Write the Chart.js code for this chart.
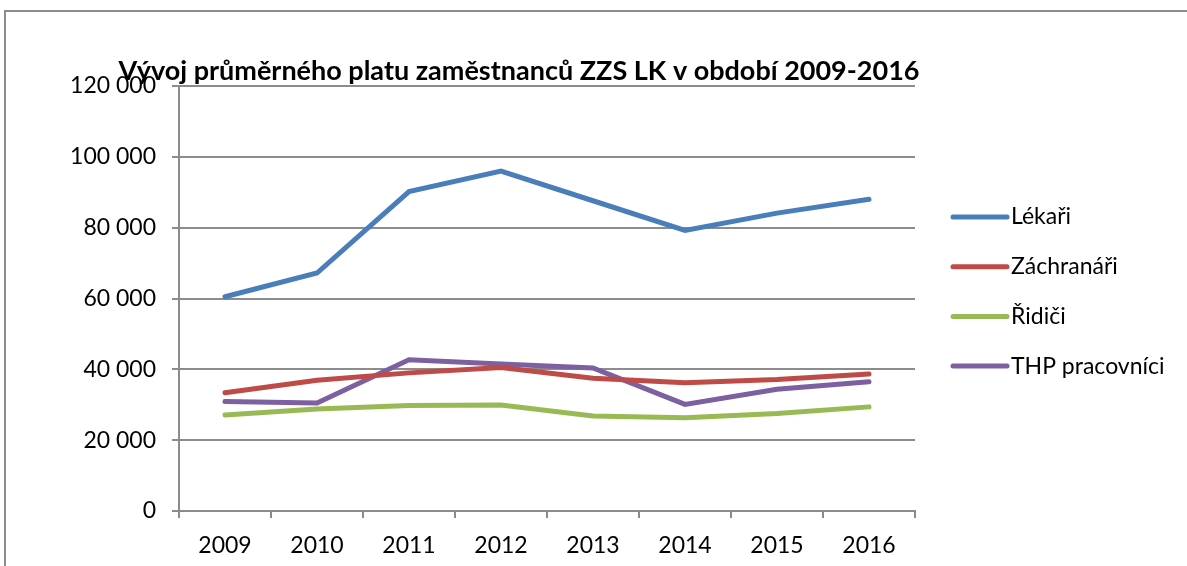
<!DOCTYPE html>
<html>
<head>
<meta charset="utf-8">
<script src="https://cdn.jsdelivr.net/npm/chart.js@4.4.0/dist/chart.umd.min.js"></script>
<style>
  html, body { margin: 0; padding: 0; background: #fff; overflow: hidden; }
  canvas { display: block; }
</style>
</head>
<body>
<canvas id="c" width="1187" height="566"></canvas>
<script>
const chartTitle = "Vývoj průměrného platu zaměstnanců ZZS LK v období 2009-2016";
const years = ["2009", "2010", "2011", "2012", "2013", "2014", "2015", "2016"];
const lekari = [60500, 67200, 90200, 96000, 87600, 79200, 84100, 88000];
const zachranari = [33400, 36900, 39000, 40500, 37500, 36200, 37100, 38700];
const ridici = [27100, 28800, 29800, 29900, 26800, 26300, 27500, 29400];
const thp = [30900, 30500, 42700, 41500, 40400, 30100, 34400, 36500];
const seriesNames = ["Lékaři", "Záchranáři", "Řidiči", "THP pracovníci"];
const seriesColors = ["#4A7EBB", "#BE4B48", "#98B954", "#7D60A0"];
const yTicks = [0, 20000, 40000, 60000, 80000, 100000, 120000];

const FONT = "Lato, 'Open Sans', sans-serif";

const frame = {
  id: 'frame',
  beforeDraw(chart) {
    const ctx = chart.ctx;
    ctx.save();
    ctx.strokeStyle = '#8c8c8c';
    ctx.lineWidth = 2;
    ctx.beginPath();
    ctx.moveTo(5, 566);
    ctx.lineTo(5, 11);
    ctx.lineTo(1187, 11);
    ctx.stroke();
    ctx.restore();
  }
};

const overlay = {
  id: 'overlay',
  afterDraw(chart) {
    const ctx = chart.ctx;
    ctx.save();
    ctx.font = "bold 27px " + FONT;
    ctx.fillStyle = "#000";
    ctx.textAlign = "center";
    ctx.textBaseline = "middle";
    ctx.fillText(chartTitle, 519, 71);
    ctx.font = "23px " + FONT;
    ctx.textAlign = "left";
    chart.data.datasets.forEach((ds, i) => {
      const y = 217 + i * 49.7;
      ctx.strokeStyle = ds.borderColor;
      ctx.lineWidth = 5;
      ctx.lineCap = "round";
      ctx.beginPath();
      ctx.moveTo(953, y);
      ctx.lineTo(1007, y);
      ctx.stroke();
      ctx.fillStyle = "#000";
      ctx.fillText(ds.label, 1011, y);
    });
    ctx.restore();
  }
};

const fmt = v => String(v).replace(/\B(?=(\d{3})+(?!\d))/g, " ");

new Chart(document.getElementById('c'), {
  type: 'line',
  data: {
    labels: years,
    datasets: [lekari, zachranari, ridici, thp].map((d, i) => ({
      label: seriesNames[i],
      data: d,
      borderColor: seriesColors[i],
      backgroundColor: seriesColors[i],
      borderWidth: 5,
      pointRadius: 0,
      tension: 0,
      borderCapStyle: 'round',
      borderJoinStyle: 'miter'
    }))
  },
  options: {
    responsive: false,
    animation: false,
    devicePixelRatio: 1,
    layout: { padding: { left: 0, right: 272, top: 86, bottom: 0 } },
    plugins: { legend: { display: false }, title: { display: false }, tooltip: { enabled: false } },
    scales: {
      x: {
        offset: true,
        grid: { display: true, drawOnChartArea: false, offset: true, color: '#8c8c8c', lineWidth: 2, tickLength: 7 },
        border: { display: true, color: '#8c8c8c', width: 2 },
        ticks: { color: '#000', font: { family: FONT, size: 23 }, padding: 14, maxRotation: 0 },
        afterFit(s) { s.height = 55; }
      },
      y: {
        min: 0, max: 120000,
        afterBuildTicks(s) { s.ticks = yTicks.map(v => ({ value: v })); },
        grid: { color: '#8c8c8c', lineWidth: 2, tickLength: 7 },
        border: { display: true, color: '#8c8c8c', width: 2 },
        ticks: { color: '#000', font: { family: FONT, size: 23 }, padding: 16, callback: v => fmt(v) },
        afterFit(s) { s.width = 179; }
      }
    }
  },
  plugins: [frame, overlay]
});
</script>
</body>
</html>
